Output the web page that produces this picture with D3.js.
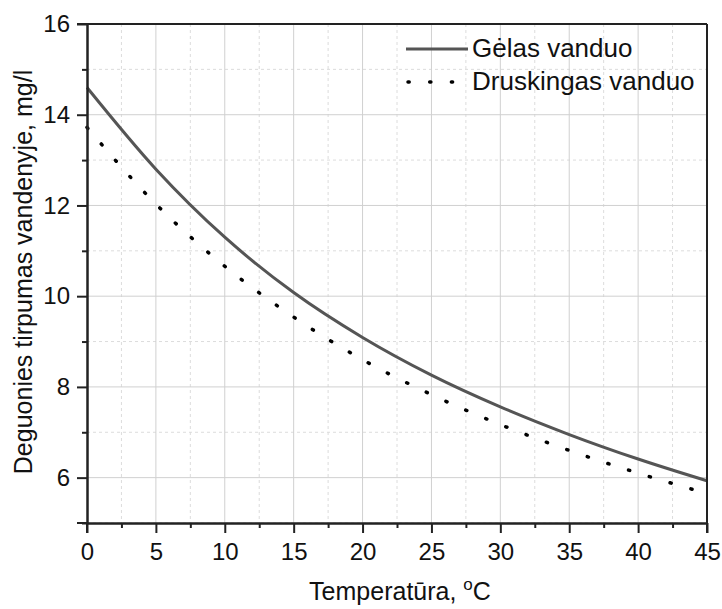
<!DOCTYPE html>
<html lang="lt">
<head>
    <meta charset="UTF-8">
    <title>Deguonies tirpumas vandenyje</title>
    <script src="https://d3js.org/d3.v7.min.js"></script>
    <style>
        body { margin: 0; background: #fff; }
        svg { display: block; font-family: "Liberation Sans", Arial, sans-serif; }
        .grid-major { stroke: #d0d0d0; stroke-width: 1; }
        .grid-minor { stroke: #dcdcdc; stroke-width: 1; stroke-dasharray: 3 3; }
        .axis path, .axis line { stroke: #222; stroke-width: 2; }
        .axis text { font-size: 24px; fill: #111; font-family: "Liberation Sans", Arial, sans-serif; }
    </style>
</head>
<body>
    <svg id="chart" width="722" height="609"></svg>
    <script>
        // Data
        const temps = [0, 5, 10, 15, 20, 25, 30, 35, 40, 45];
        const freshWater = [14.6, 12.8, 11.3, 10.08, 9.09, 8.26, 7.56, 6.95, 6.41, 5.93];
        const saltWater = [13.72, 12.03, 10.66, 9.54, 8.6, 7.83, 7.17, 6.6, 6.1, 5.65];
        const seriesNames = ["Gėlas vanduo", "Druskingas vanduo"];
        const xTicks = [0, 5, 10, 15, 20, 25, 30, 35, 40, 45];
        const yTicks = [6, 8, 10, 12, 14, 16];

        const svg = d3.select("#chart");
        const margin = { top: 24, right: 15, bottom: 86, left: 87 };
        const width = 722 - margin.left - margin.right;
        const height = 609 - margin.top - margin.bottom;

        const g = svg.append("g").attr("transform", `translate(${margin.left},${margin.top})`);

        const x = d3.scaleLinear().domain([0, 45]).range([0, width]);
        const y = d3.scaleLinear().domain([5, 16]).range([height, 0]);

        // minor / major grid
        const xMinor = d3.range(2.5, 45, 5);
        const yMinor = d3.range(5, 16, 2);
        g.selectAll(".gx-minor").data(xMinor).enter().append("line")
            .attr("class", "grid-minor")
            .attr("x1", d => x(d)).attr("x2", d => x(d))
            .attr("y1", 0).attr("y2", height);
        g.selectAll(".gy-minor").data(yMinor).enter().append("line")
            .attr("class", "grid-minor")
            .attr("x1", 0).attr("x2", width)
            .attr("y1", d => y(d)).attr("y2", d => y(d));
        g.selectAll(".gx-major").data(xTicks.slice(1, -1)).enter().append("line")
            .attr("class", "grid-major")
            .attr("x1", d => x(d)).attr("x2", d => x(d))
            .attr("y1", 0).attr("y2", height);
        g.selectAll(".gy-major").data(yTicks.slice(0, -1)).enter().append("line")
            .attr("class", "grid-major")
            .attr("x1", 0).attr("x2", width)
            .attr("y1", d => y(d)).attr("y2", d => y(d));

        // lines
        const fresh = temps.map((t, i) => ({ t, v: freshWater[i] }));
        const salt = temps.map((t, i) => ({ t, v: saltWater[i] }));
        const line = d3.line().x(d => x(d.t)).y(d => y(d.v)).curve(d3.curveMonotoneX);

        g.append("path").datum(fresh)
            .attr("d", line)
            .attr("fill", "none")
            .attr("stroke", "#555")
            .attr("stroke-width", 3);

        g.append("path").datum(salt)
            .attr("d", line)
            .attr("fill", "none")
            .attr("stroke", "#000")
            .attr("stroke-width", 3.5)
            .attr("stroke-linecap", "round")
            .attr("stroke-dasharray", "1.2 20.5");

        // axes
        g.append("g").attr("class", "axis")
            .attr("transform", `translate(0,${height})`)
            .call(d3.axisBottom(x).tickValues(xTicks).tickSize(10).tickSizeOuter(0).tickPadding(10));
        g.append("g").attr("class", "axis")
            .attr("transform", `translate(0,${height})`)
            .call(d3.axisBottom(x).tickValues(xMinor).tickSize(5).tickFormat("").tickSizeOuter(0));

        g.append("g").attr("class", "axis")
            .call(d3.axisLeft(y).tickValues(yTicks).tickSize(10).tickSizeOuter(0).tickPadding(7));
        g.append("g").attr("class", "axis")
            .call(d3.axisLeft(y).tickValues(yMinor).tickSize(5).tickFormat("").tickSizeOuter(0));

        // frame top / right and corner stubs
        g.append("line").attr("x1", -10).attr("x2", width).attr("y1", 0).attr("y2", 0)
            .attr("stroke", "#222").attr("stroke-width", 2);
        g.append("line").attr("x1", width).attr("x2", width).attr("y1", 0).attr("y2", height + 10)
            .attr("stroke", "#222").attr("stroke-width", 2);
        g.append("line").attr("x1", -10).attr("x2", 0).attr("y1", height).attr("y2", height)
            .attr("stroke", "#222").attr("stroke-width", 2);
        g.append("line").attr("x1", 0).attr("x2", 0).attr("y1", height).attr("y2", height + 10)
            .attr("stroke", "#222").attr("stroke-width", 2);

        // axis titles
        const xt = svg.append("text")
            .attr("x", 400).attr("y", 600)
            .attr("text-anchor", "middle")
            .attr("font-size", 25).attr("fill", "#111");
        xt.append("tspan").text("Temperatūra, ");
        xt.append("tspan").attr("font-size", 17).attr("dy", -10).text("o");
        xt.append("tspan").attr("dy", 10).text("C");

        svg.append("text")
            .attr("transform", `translate(32,272) rotate(-90)`)
            .attr("text-anchor", "middle")
            .attr("font-size", 25).attr("fill", "#111")
            .text("Deguonies tirpumas vandenyje, mg/l");

        // legend
        const legend = g.append("g").attr("transform", `translate(${406 - margin.left},${49 - margin.top})`);
        const styles = [
            { stroke: "#555", width: 3, dash: null, cap: "butt" },
            { stroke: "#000", width: 3.5, dash: "1.2 20.5", cap: "round" }
        ];
        seriesNames.forEach((name, i) => {
            const row = legend.append("g").attr("transform", `translate(0,${i * 33})`);
            row.append("line")
                .attr("x1", i ? 2 : 0).attr("x2", 62)
                .attr("stroke", styles[i].stroke)
                .attr("stroke-width", styles[i].width)
                .attr("stroke-linecap", styles[i].cap)
                .attr("stroke-dasharray", styles[i].dash);
            row.append("text")
                .attr("x", 66).attr("y", 8)
                .attr("font-size", 26).attr("fill", "#111")
                .text(name);
        });
    </script>
</body>
</html>
